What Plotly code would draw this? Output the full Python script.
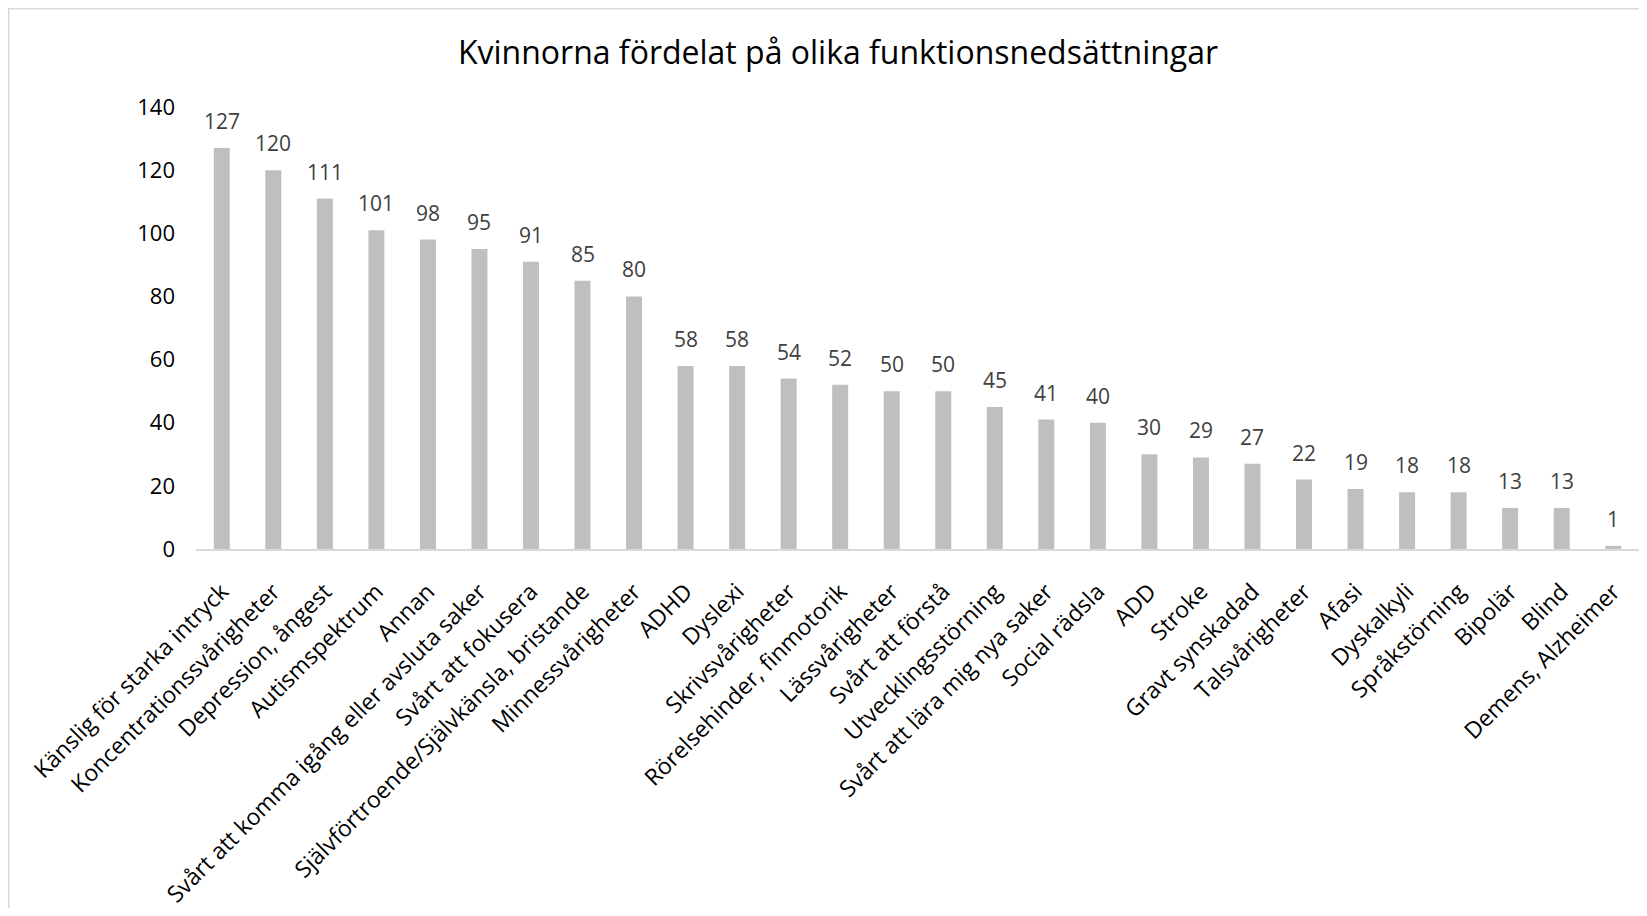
import plotly.graph_objects as go

title_text = "Kvinnorna fördelat på olika funktionsnedsättningar"
categories = [
    "Känslig för starka intryck",
    "Koncentrationssvårigheter",
    "Depression, ångest",
    "Autismspektrum",
    "Annan",
    "Svårt att komma igång eller avsluta saker",
    "Svårt att fokusera",
    "Självförtroende/Självkänsla, bristande",
    "Minnessvårigheter",
    "ADHD",
    "Dyslexi",
    "Skrivsvårigheter",
    "Rörelsehinder, finmotorik",
    "Lässvårigheter",
    "Svårt att förstå",
    "Utvecklingsstörning",
    "Svårt att lära mig nya saker",
    "Social rädsla",
    "ADD",
    "Stroke",
    "Gravt synskadad",
    "Talsvårigheter",
    "Afasi",
    "Dyskalkyli",
    "Språkstörning",
    "Bipolär",
    "Blind",
    "Demens, Alzheimer",
]
values = [127, 120, 111, 101, 98, 95, 91, 85, 80, 58, 58, 54, 52, 50, 50, 45,
          41, 40, 30, 29, 27, 22, 19, 18, 18, 13, 13, 1]
y_ticks = [0, 20, 40, 60, 80, 100, 120, 140]

FONT = "Open Sans"

# figure size accounts for the 8px body margin of the HTML page
W, H = 1631, 900
L, R, T, B = 188, 0, 99, 359
pw, ph = W - L - R, H - T - B

fig = go.Figure()
fig.add_trace(go.Bar(
    x=categories, y=values,
    marker=dict(color="#BFBFBF", line=dict(width=0)),
    width=0.31,
    hoverinfo="x+y",
))

for c, v in zip(categories, values):
    fig.add_annotation(
        x=c, y=v, xref="x", yref="y",
        text=str(v), showarrow=False,
        yanchor="bottom", yshift=11,
        font=dict(family=FONT, size=21, color="#404040"),
    )

# outer chart border (light grey frame)
fig.add_shape(type="rect", xref="paper", yref="paper",
              x0=(0.5 - L) / pw, x1=1.05, y0=-1.2, y1=(H - B - 0.5) / ph,
              line=dict(color="#D9D9D9", width=2), fillcolor="rgba(0,0,0,0)",
              layer="below")

fig.update_layout(
    width=W, height=H,
    paper_bgcolor="white", plot_bgcolor="white",
    margin=dict(l=L, r=R, t=T, b=B, autoexpand=False),
    showlegend=False,
    title=dict(text=title_text, x=830 / W, xanchor="center",
               y=1 - 45 / H, yanchor="middle",
               font=dict(family=FONT, size=32, color="#000000")),
    font=dict(family=FONT, size=22, color="#000000"),
    bargap=0.69,
)
fig.update_xaxes(
    tickangle=-45,
    showline=True, linecolor="#D9D9D9", linewidth=2,
    showgrid=False, ticks="", ticklabelstandoff=18,
    tickfont=dict(family=FONT, size=23, color="#000000"),
)
fig.update_yaxes(
    range=[0, 140], tickvals=y_ticks, ticktext=[str(t) for t in y_ticks],
    showline=False, showgrid=False, zeroline=False,
    ticks="", ticklabelstandoff=20,
    tickfont=dict(family=FONT, size=22, color="#000000"),
)

fig.write_html("out.html")
